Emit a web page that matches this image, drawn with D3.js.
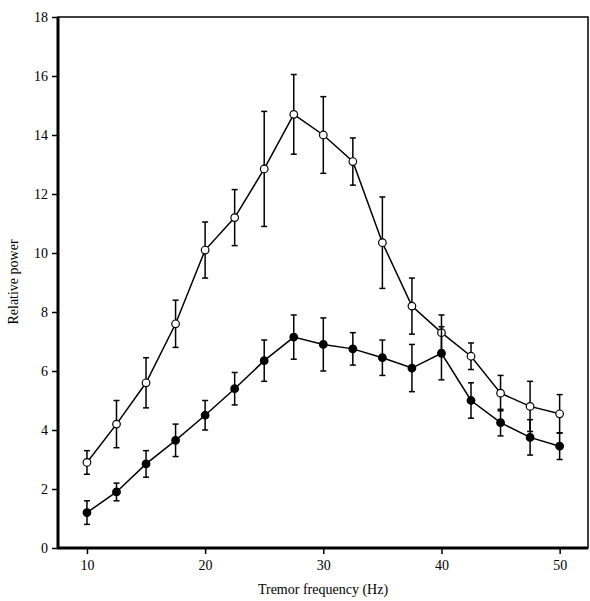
<!DOCTYPE html>
<html><head><meta charset="utf-8">
<script src="https://cdn.jsdelivr.net/npm/d3@7"></script>
<style>body{margin:0;background:#fff}text{font-family:"Liberation Serif",serif;font-size:14px}</style>
</head><body><svg id="c" width="590" height="601"></svg>
<script>
"use strict";
var freqs = [10,12.5,15,17.5,20,22.5,25,27.5,30,32.5,35,37.5,40,42.5,45,47.5,50],
    openVals = [2.9,4.2,5.6,7.6,10.1,11.2,12.85,14.7,14.0,13.1,10.35,8.2,7.3,6.5,5.25,4.8,4.55],
    openErr = [0.4,0.8,0.85,0.8,0.95,0.95,1.95,1.35,1.3,0.8,1.55,0.95,0.6,0.45,0.6,0.85,0.65],
    fillVals = [1.2,1.9,2.85,3.65,4.5,5.4,6.35,7.15,6.9,6.75,6.45,6.1,6.6,5.0,4.25,3.75,3.45],
    fillErr = [0.4,0.3,0.45,0.55,0.5,0.55,0.7,0.75,0.9,0.55,0.6,0.8,0.9,0.6,0.45,0.6,0.45],
    xTicks = [10,20,30,40,50],
    yTicks = [0,2,4,6,8,10,12,14,16,18];

var svg = d3.select("#c"),
    x = d3.scaleLinear().domain([7.55,52.4]).range([58,588]),
    y = d3.scaleLinear().domain([0,18]).range([548,17]);

svg.append("rect").attr("x",58).attr("y",17).attr("width",530).attr("height",531)
    .attr("fill","none").attr("stroke","#000").attr("stroke-width",1.5);
svg.append("line").attr("x1",58).attr("x2",58).attr("y1",17).attr("y2",549).attr("stroke","#000").attr("stroke-width",3);
svg.append("line").attr("x1",57).attr("x2",588).attr("y1",548).attr("y2",548).attr("stroke","#000").attr("stroke-width",3);

var xa = svg.append("g").attr("transform","translate(0,548)")
    .call(d3.axisBottom(x).tickValues(xTicks).tickSize(6).tickPadding(6));
var ya = svg.append("g").attr("transform","translate(58,0)")
    .call(d3.axisLeft(y).tickValues(yTicks).tickSize(6).tickPadding(4));
[xa,ya].forEach(function (a) {
    a.select(".domain").remove();
    a.selectAll("line").attr("stroke-width",1.5);
    a.selectAll("text").style("font-size","14px").style("font-family","Liberation Serif, serif");
});

svg.append("text").attr("x",323).attr("y",594).attr("text-anchor","middle").text("Tremor frequency (Hz)");
svg.append("text").attr("transform","translate(18,282) rotate(-90)").attr("text-anchor","middle").text("Relative power");

function series(vals, errs, fill) {
    var g = svg.append("g");
    g.append("path").datum(vals).attr("fill","none").attr("stroke","#000").attr("stroke-width",1.5)
        .attr("d", d3.line().x(function (d, i) { return x(freqs[i]); }).y(function (d) { return y(d); }));
    vals.forEach(function (v, i) {
        var cx = x(freqs[i]);
        g.append("line").attr("x1",cx).attr("x2",cx).attr("y1",y(v - errs[i])).attr("y2",y(v + errs[i]))
            .attr("stroke","#000").attr("stroke-width",1.5);
        [v - errs[i], v + errs[i]].forEach(function (e) {
            g.append("line").attr("x1",cx-3).attr("x2",cx+3).attr("y1",y(e)).attr("y2",y(e))
                .attr("stroke","#000").attr("stroke-width",1.5);
        });
        g.append("circle").attr("cx",cx).attr("cy",y(v)).attr("r",3.8)
            .attr("fill",fill).attr("stroke","#000").attr("stroke-width",1.2);
    });
}
series(openVals, openErr, "#fff");
series(fillVals, fillErr, "#000");
</script></body></html>
